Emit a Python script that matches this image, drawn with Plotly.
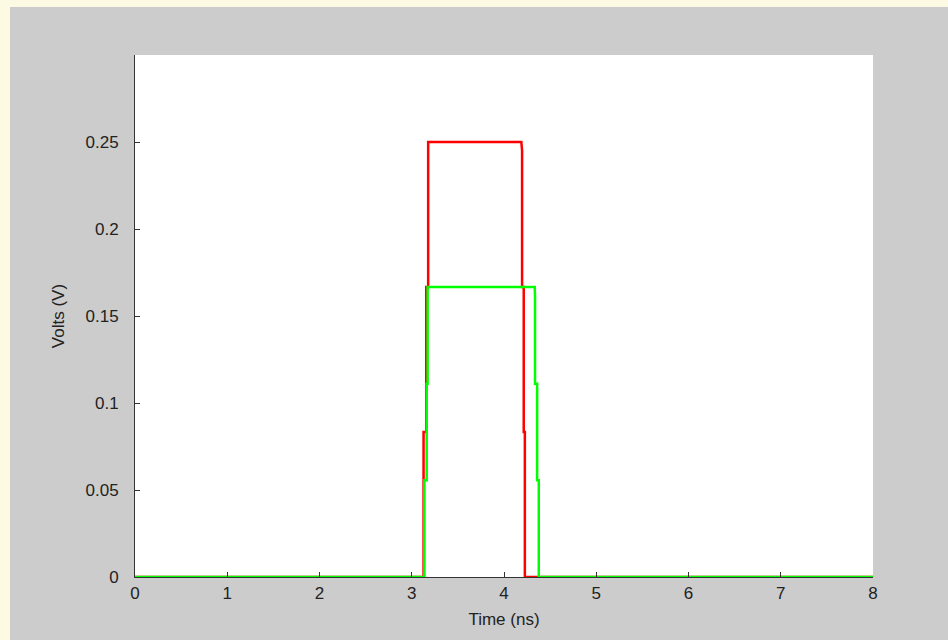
import plotly.graph_objects as go

# Data
red_t = [0, 3.128, 3.128, 3.157, 3.157, 3.178, 3.178, 4.188, 4.196, 4.196, 4.214, 4.214, 4.226, 4.226, 8]
red_v = [0, 0, 0.0833, 0.0833, 0.1667, 0.1667, 0.25, 0.25, 0.245, 0.1667, 0.1667, 0.0833, 0.0833, 0, 0]

green_t = [0, 3.137, 3.137, 3.162, 3.162, 3.172, 3.172, 4.333, 4.336, 4.336, 4.359, 4.359, 4.377, 4.377, 8]
green_v = [0, 0, 0.0556, 0.0556, 0.1111, 0.1111, 0.1667, 0.1667, 0.162, 0.1111, 0.1111, 0.0556, 0.0556, 0, 0]

x_ticks = [0, 1, 2, 3, 4, 5, 6, 7, 8]
y_ticks = [0, 0.05, 0.1, 0.15, 0.2, 0.25]
y_tick_text = ["0", "0.05", "0.1", "0.15", "0.2", "0.25"]

W, H = 948, 640
L, R, T, B = 135, 75, 55, 63
pw, ph = W - L - R, H - T - B

def px_x(px):
    return (px - L) / pw

def px_y(py):
    return (H - B - py) / ph

fig = go.Figure()
fig.add_trace(go.Scatter(x=red_t, y=red_v, mode="lines",
                         line=dict(color="#ff0000", width=2.5), showlegend=False))
fig.add_trace(go.Scatter(x=green_t, y=green_v, mode="lines",
                         line=dict(color="#00ff00", width=2.5), showlegend=False))

font = dict(family="Liberation Sans, Arial, sans-serif", size=17, color="#222222")

fig.update_layout(
    width=W, height=H,
    margin=dict(l=L, r=R, t=T, b=B, pad=0),
    paper_bgcolor="#cccccc",
    plot_bgcolor="#ffffff",
    font=font,
    xaxis=dict(range=[0, 8], tickvals=x_ticks, ticks="inside", ticklen=5,
               tickcolor="#333333", showline=True, linecolor="#333333", linewidth=1,
               showgrid=False, zeroline=False, ticklabelstandoff=1,
               title=dict(text="Time (ns)", font=font, standoff=10)),
    yaxis=dict(range=[0, 0.3], tickvals=y_ticks, ticktext=y_tick_text, ticks="inside",
               ticklen=5, tickcolor="#333333", showline=True, linecolor="#333333",
               linewidth=1, showgrid=False, zeroline=False, ticklabelstandoff=12,
               title=dict(text="Volts (V)", font=font, standoff=16)),
    shapes=[
        dict(type="rect", xref="paper", yref="paper", x0=px_x(0), x1=px_x(10),
             y0=px_y(H), y1=px_y(0), fillcolor="#fcfae3", line=dict(width=0), layer="above"),
        dict(type="rect", xref="paper", yref="paper", x0=px_x(0), x1=px_x(W),
             y0=px_y(7), y1=px_y(0), fillcolor="#fcfae3", line=dict(width=0), layer="above"),
    ],
)

fig.write_html("out.html", config={"displayModeBar": False},
               post_script="document.body.style.margin='0';document.body.style.overflow='hidden';")
